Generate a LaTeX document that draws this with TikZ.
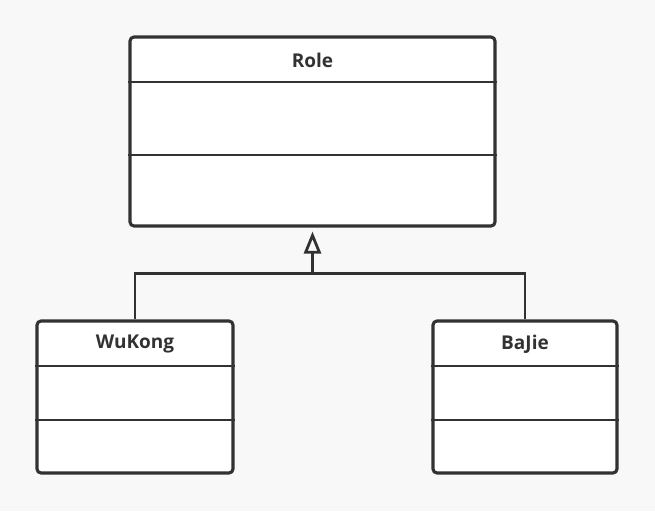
\documentclass[tikz,border=0pt]{standalone}
\usepackage{fontspec}
\setmainfont{Open Sans}
\usepackage{xcolor}
\usepackage{tikz}
\usetikzlibrary{positioning, arrows.meta, calc}

\definecolor{canvas}{HTML}{F8F8F8}
\definecolor{ink}{HTML}{323232}

\begin{document}
\begin{tikzpicture}[
    x=1pt, y=-1pt,
    every node/.style={font=\fontsize{19}{21}\selectfont\bfseries, text=ink},
    umlclass/.style={draw=ink, fill=white, line width=3.1pt, rounded corners=4pt, minimum width=#1, minimum height=152pt, inner sep=0pt},
    divider/.style={draw=ink, line width=2.9pt},
    inherit/.style={-{Triangle[open, length=22pt, width=17pt]}, line width=2.8pt, draw=ink},
    link/.style={line width=2.8pt, draw=ink},
  ]

  \useasboundingbox[fill=canvas] (0,0) rectangle (655,511);

  % ---- Parent class ----
  \node[umlclass=365pt, minimum height=189pt] (role) at (312.5,131.5) {};
  \node (roletitle) at (312.5,60) {Role};
  \draw[divider] (role.west |- 0,82) -- (role.east |- 0,82);
  \draw[divider] (role.west |- 0,155) -- (role.east |- 0,155);

  % ---- Child classes ----
  \node[umlclass=196pt] (wukong) at (135,397) {};
  \node (wukongtitle) at (135,344) {WuKong};
  \draw[divider] (wukong.west |- 0,366) -- (wukong.east |- 0,366);
  \draw[divider] (wukong.west |- 0,420) -- (wukong.east |- 0,420);

  \node[umlclass=184pt] (bajie) at (525,397) {};
  \node (bajietitle) at (525,344) {BaJie};
  \draw[divider] (bajie.west |- 0,366) -- (bajie.east |- 0,366);
  \draw[divider] (bajie.west |- 0,420) -- (bajie.east |- 0,420);

  % ---- Generalization ----
  \coordinate (bus) at (role.south |- 0,273.5);
  \draw[link] (wukong.north) |- (bus) -| (bajie.north);
  \draw[inherit] (bus) -- ([yshift=-4pt]role.south);

\end{tikzpicture}
\end{document}
